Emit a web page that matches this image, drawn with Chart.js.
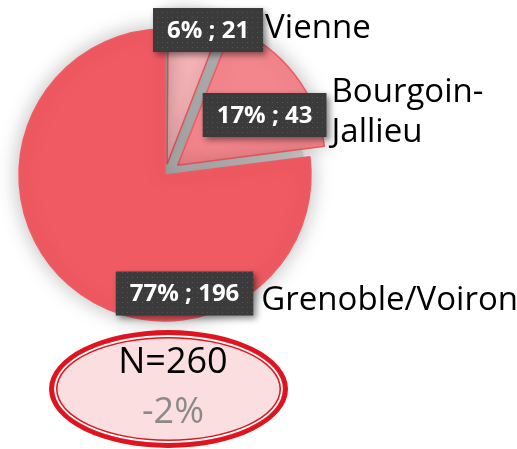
<!DOCTYPE html>
<html><head><meta charset="utf-8">
<script src="https://cdn.jsdelivr.net/npm/chart.js@4"></script>
<style>
html,body{margin:0;padding:0;background:#fff;}
#wrap{position:relative;width:517px;height:449px;overflow:hidden;}
#c{position:absolute;left:0;top:0;}
#nbox{position:absolute;left:49px;top:330px;width:239px;height:118px;box-sizing:border-box;border:5px solid #e0141e;border-radius:50%;background:#fbdfe0;box-shadow:inset 0 0 0 2px #fff,inset 0 0 0 3.5px #e0141e;}
.nt{position:absolute;left:49px;width:248px;text-align:center;font-family:'Open Sans';font-size:36px;line-height:49px;white-space:nowrap;}
</style></head>
<body>
<div id="wrap">
<canvas id="c" width="517" height="449"></canvas>
<div id="nbox"></div>
<div class="nt" id="ntotal" style="top:335px;color:#000;"></div>
<div class="nt" id="nchange" style="top:385px;color:#8a8a8a;"></div>
</div>
<script>
// ---- data ----
const categories = ['Vienne', 'Bourgoin-Jallieu', 'Grenoble/Voiron'];
const shares = [6, 17, 77];          // percent (slice sizes)
const counts = [21, 43, 196];        // respondents
const changeLabel = '-2%';

// ---- styles / layout ----
const sliceColors = ['#f7b4b8', '#f3868c', '#f05a62'];
const sliceBorders = ['#f05a62', '#f05a62', '#f05a62'];
const sliceOffsets = [44, 64, 0];
const categoryLines = [['Vienne'], ['Bourgoin-', 'Jallieu'], ['Grenoble/Voiron']];
// box centre relative to pie centre (in radius units), text gap, baseline offsets
const labelLayout = [
  {bx: 0.295, by: -0.993, gap: 2, base: [8]},
  {bx: 0.682, by: -0.411, gap: 5, base: [-13, 27]},
  {bx: 0.134, by: 0.812, gap: 8, base: [16.5]}
];

const total = counts.reduce((a, b) => a + b, 0);
document.getElementById('ntotal').textContent = 'N=' + total;
document.getElementById('nchange').textContent = changeLabel;

function makePattern(ctx) {
  const p = document.createElement('canvas');
  p.width = 5; p.height = 5;
  const pc = p.getContext('2d');
  pc.fillStyle = '#3b3b3b'; pc.fillRect(0, 0, 5, 5);
  pc.fillStyle = '#555555'; pc.fillRect(2, 2, 1, 1);
  return ctx.createPattern(p, 'repeat');
}

const decor = {
  id: 'decor',
  beforeDatasetsDraw(chart) {
    const ctx = chart.ctx;
    const meta = chart.getDatasetMeta(0);
    const big = meta.data[2];
    const x = big.x, y = big.y, r = big.outerRadius;
    const a0 = meta.data[0].startAngle, a1 = meta.data[1].endAngle;
    ctx.save();
    const g = ctx.createLinearGradient(x, y, x + r, y);
    g.addColorStop(0, '#c4c4c4');
    g.addColorStop(0.6, '#dcdcdc');
    g.addColorStop(1, '#ececec');
    ctx.fillStyle = g;
    ctx.beginPath();
    ctx.moveTo(x, y);
    ctx.arc(x, y, r - 6, a0, a1);
    ctx.closePath();
    ctx.fill();
    ctx.restore();
    ctx.save();
    ctx.shadowColor = 'rgba(0,0,0,0.28)';
    ctx.shadowBlur = 22;
  },
  afterDatasetsDraw(chart) {
    const ctx = chart.ctx;
    ctx.restore();
    const meta = chart.getDatasetMeta(0);
    const big = meta.data[2];
    const cx = big.x, cy = big.y, r = big.outerRadius;
    const pat = makePattern(ctx);
    meta.data.forEach((arc, i) => {
      const L = labelLayout[i];
      const bx = cx + L.bx * r, by = cy + L.by * r;
      const txt = shares[i] + '% ; ' + counts[i];
      ctx.save();
      ctx.font = 'bold 24px "Open Sans"';
      const w = ctx.measureText(txt).width + 28, h = 44;
      ctx.shadowColor = 'rgba(0,0,0,0.45)';
      ctx.shadowBlur = 6; ctx.shadowOffsetX = 3; ctx.shadowOffsetY = 3;
      ctx.fillStyle = pat;
      ctx.fillRect(bx - w / 2, by - h / 2, w, h);
      ctx.shadowColor = 'transparent';
      ctx.fillStyle = '#ffffff';
      ctx.textAlign = 'center';
      ctx.textBaseline = 'middle';
      ctx.fillText(txt, bx, by + 1);
      ctx.font = '33px "Open Sans"';
      ctx.fillStyle = '#000000';
      ctx.textAlign = 'left';
      ctx.textBaseline = 'alphabetic';
      categoryLines[i].forEach((line, k) => {
        ctx.fillText(line, bx + w / 2 + L.gap, by + L.base[k]);
      });
      ctx.restore();
    });
  }
};

new Chart(document.getElementById('c'), {
  type: 'pie',
  data: {
    labels: categories,
    datasets: [{
      data: shares,
      backgroundColor: sliceColors,
      borderColor: sliceBorders,
      borderWidth: 1.5,
      offset: sliceOffsets,
      radius: 146
    }]
  },
  options: {
    responsive: false,
    devicePixelRatio: 1,
    animation: false,
    layout: {padding: {left: 10, right: 197, top: 10, bottom: 109}},
    plugins: {legend: {display: false}, tooltip: {enabled: false}}
  },
  plugins: [decor]
});
</script>
</body></html>
